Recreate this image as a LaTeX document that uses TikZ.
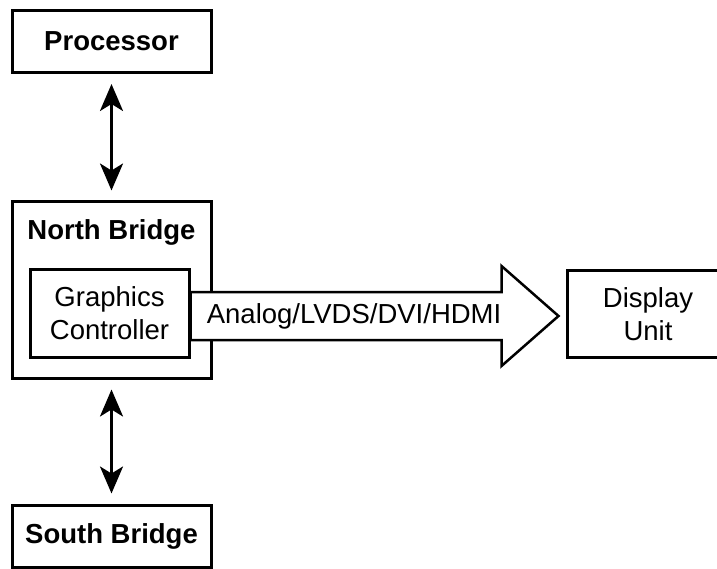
\documentclass[tikz,border=0pt]{standalone}
\usepackage{fontspec}
\setmainfont{Liberation Sans}
\usetikzlibrary{arrows.meta,calc,positioning}

\begin{document}
\begin{tikzpicture}[x=1pt, y=-1pt,
    >={Stealth[length=27pt, width=23pt, inset=7pt]},
    box/.style={draw, line width=3pt, inner sep=0pt, align=center},
    boldtext/.style={font=\fontsize{27.5}{33}\selectfont\bfseries},
    plaintext/.style={font=\fontsize{27.5}{33}\selectfont},
    bus/.style={<->, line width=2.6pt, shorten <=10pt, shorten >=10pt}]
    \useasboundingbox (0,0) rectangle (717,569);

    % Blocchi
    \node[box, boldtext, minimum width=199pt, minimum height=62pt] (proc) at (111.5,41.5) {Processor};
    \node[box, minimum width=199pt, minimum height=176pt] (nb) at (111.5,290) {};
    \node[boldtext] (nbtitle) at (111.5,232) {North Bridge};
    \node[box, plaintext, minimum width=159pt, minimum height=87pt] (gc) at (109.5,313.5) {Graphics\\Controller};
    \node[box, plaintext, minimum width=162pt, minimum height=86pt] (disp) at (648,314) {Display\\Unit};
    \node[box, boldtext, minimum width=199pt, minimum height=62pt] (sb) at (111.5,536) {South Bridge};

    % Bus
    \draw[bus] (proc) -- (nb);
    \draw[bus] (nb) -- (sb);

    % Freccia grande verso il display
    \coordinate (tail) at ($(gc.east)+(0,2.5)$);
    \draw[line width=2.5pt, fill=white] ($(tail)+(0,-24)$) -- ($(tail)+(311,-24)$) -- ($(tail)+(311,-50)$)
        -- ($(tail)+(368,0)$) -- ($(tail)+(311,50)$) -- ($(tail)+(311,24)$) -- ($(tail)+(0,24)$) -- cycle;
    \node[plaintext, anchor=east, inner sep=0pt] (buslabel) at ($(tail)+(311,0)$) {Analog/LVDS/DVI/HDMI};
\end{tikzpicture}
\end{document}
